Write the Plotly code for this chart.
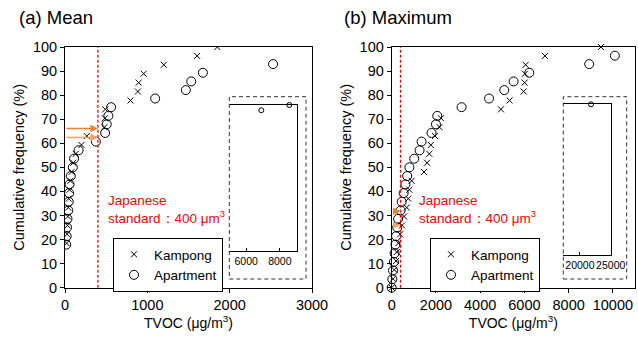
import plotly.graph_objects as go

# ---------------- data ----------------
# (a) Mean
mean_kampong_tvoc = [20, 25, 30, 35, 40, 45, 55, 65, 80, 100, 130, 200, 265,
                     480, 485, 490, 795, 885, 895, 955, 1200, 1605, 1850]
mean_kampong_freq = [18.5, 22.2, 25.9, 29.6, 33.3, 37.0, 40.7, 44.4, 48.1, 51.9,
                     55.6, 59.3, 63.0, 66.7, 70.4, 74.1, 77.8, 81.5, 85.2, 88.9,
                     92.6, 96.3, 100.0]
mean_apart_tvoc = [15, 20, 25, 30, 40, 45, 50, 55, 70, 95, 110, 165, 375, 487,
                   507, 527, 560, 1095, 1468, 1533, 1675, 2527]
mean_apart_freq = [17.9, 21.4, 25.0, 28.6, 32.1, 35.7, 39.3, 42.9, 46.4, 50.0,
                   53.6, 57.1, 60.7, 64.3, 67.9, 71.4, 75.0, 78.6, 82.1, 85.7,
                   89.3, 92.9]
mean_apart_inset_tvoc = [6900, 8560]
mean_apart_inset_freq = [96.4, 100.0]

# (b) Maximum
max_kampong_tvoc = [0, 60, 120, 200, 230, 300, 380, 470, 560, 680, 750, 800, 900,
                    1460, 1600, 1700, 1770, 1960, 2160, 2230, 4940, 5330, 5965,
                    6010, 6025, 6055, 6930, 9460]
max_kampong_freq = [0.0, 3.7, 7.4, 11.1, 14.8, 18.5, 22.2, 25.9, 29.6, 33.3, 37.0,
                    40.7, 44.4, 48.1, 51.9, 55.6, 59.3, 63.0, 66.7, 70.4, 74.1,
                    77.8, 81.5, 85.2, 88.9, 92.6, 96.3, 100.0]
max_apart_tvoc = [0, 30, 60, 100, 130, 170, 200, 250, 290, 405, 450, 540, 620,
                  700, 800, 1020, 1260, 1350, 1800, 2000, 2060, 3160, 4400, 5090,
                  5510, 6220, 8930, 10090]
max_apart_freq = [0.0, 3.57, 7.14, 10.7, 14.3, 17.9, 21.4, 25.0, 28.6, 32.1, 35.7,
                  39.3, 42.9, 46.4, 50.0, 53.6, 57.1, 60.7, 64.3, 67.9, 71.4, 75.0,
                  78.6, 82.1, 85.7, 89.3, 92.9, 96.4]
max_apart_inset_tvoc = [21800]
max_apart_inset_freq = [100.0]

standard = 400
mean_arrow_levels = [66.1, 62.4]
max_arrow_levels = [31.8, 26.0]
arrow_colors = ["#ED7D31", "#F0A06A"]

# ---------------- figure ----------------
W, H = 638, 338
FONT = "Liberation Sans, Arial, sans-serif"

def px_x(p):
    return p / W

def px_y(p):
    return 1 - p / H

fig = go.Figure()

kamp_marker = dict(symbol="x-thin", size=6, color="black", line=dict(color="black", width=1))
apt_marker = dict(symbol="circle-open", size=9, color="black", line=dict(color="black", width=1))
apt_small = dict(symbol="circle-open", size=5, color="black", line=dict(color="black", width=1))

fig.add_trace(go.Scatter(x=mean_kampong_tvoc, y=mean_kampong_freq, mode="markers",
                         marker=kamp_marker, name="Kampong", xaxis="x", yaxis="y",
                         legend="legend"))
fig.add_trace(go.Scatter(x=mean_apart_tvoc, y=mean_apart_freq, mode="markers",
                         marker=apt_marker, name="Apartment", xaxis="x", yaxis="y",
                         legend="legend"))
fig.add_trace(go.Scatter(x=max_kampong_tvoc, y=max_kampong_freq, mode="markers",
                         marker=kamp_marker, name="Kampong", xaxis="x2", yaxis="y2",
                         legend="legend2", cliponaxis=False))
fig.add_trace(go.Scatter(x=max_apart_tvoc, y=max_apart_freq, mode="markers",
                         marker=apt_marker, name="Apartment", xaxis="x2", yaxis="y2",
                         legend="legend2", cliponaxis=False))
fig.add_trace(go.Scatter(x=mean_apart_inset_tvoc, y=mean_apart_inset_freq, mode="markers",
                         marker=apt_small, showlegend=False, xaxis="x3", yaxis="y3",
                         cliponaxis=False))
fig.add_trace(go.Scatter(x=max_apart_inset_tvoc, y=max_apart_inset_freq, mode="markers",
                         marker=apt_small, showlegend=False, xaxis="x4", yaxis="y4",
                         cliponaxis=False))

tickfont = dict(family=FONT, size=14.5, color="black")
xtitlefont = dict(family=FONT, size=14, color="black")
ytitlefont = dict(family=FONT, size=14.5, color="black")

main_common = dict(showline=True, linecolor="black", linewidth=1, mirror=True,
                   ticks="outside", ticklen=4, tickcolor="black", showgrid=False,
                   zeroline=False, tickfont=tickfont, automargin=False,
                   tickformat="d")

ydom = [px_y(287.7), px_y(47)]
inset_tickfont = dict(family=FONT, size=10.5, color="black")
fig.update_layout(
    width=W, height=H,
    margin=dict(l=0, r=0, t=0, b=0, autoexpand=False),
    paper_bgcolor="white", plot_bgcolor="white",
    font=dict(family=FONT, color="black"),
    xaxis=dict(domain=[px_x(65), px_x(312)], range=[0, 3000], dtick=1000,
               title=dict(text="TVOC (μg/m<sup>3</sup>)", font=xtitlefont, standoff=2),
               anchor="y", **main_common),
    yaxis=dict(domain=ydom, range=[0, 100], dtick=10,
               title=dict(text="Cumulative frequency (%)", font=ytitlefont, standoff=4),
               anchor="x", **main_common),
    xaxis2=dict(domain=[px_x(391.7), px_x(635)], range=[0, 11000], dtick=2000,
                title=dict(text="TVOC (μg/m<sup>3</sup>)", font=xtitlefont, standoff=2),
                anchor="y2", **main_common),
    yaxis2=dict(domain=ydom, range=[0, 100], dtick=10,
                title=dict(text="Cumulative frequency (%)", font=ytitlefont, standoff=4),
                anchor="x2", **main_common),
    xaxis3=dict(domain=[px_x(229.3), px_x(296.7)], range=[5000, 9000],
                tickvals=[6000, 8000], ticks="inside", ticklen=3, tickcolor="black",
                showline=True, linecolor="black", linewidth=1, mirror=True,
                showgrid=False, zeroline=False, anchor="y3", automargin=False,
                tickformat="d", tickangle=0, tickfont=inset_tickfont),
    yaxis3=dict(domain=[px_y(251), px_y(105)], range=[0, 100], side="right",
                showline=True, linecolor="black", linewidth=1, showticklabels=False,
                ticks="", showgrid=False, zeroline=False, anchor="x3", automargin=False),
    xaxis4=dict(domain=[px_x(563.3), px_x(610.7)], range=[17300, 25000],
                tickvals=[20000, 25000], ticks="inside", ticklen=3, tickcolor="black",
                showline=True, linecolor="black", linewidth=1, mirror=True,
                showgrid=False, zeroline=False, anchor="y4", automargin=False,
                tickformat="d", tickangle=0, tickfont=inset_tickfont),
    yaxis4=dict(domain=[px_y(255), px_y(104.3)], range=[0, 100], side="right",
                showline=True, linecolor="black", linewidth=1, showticklabels=False,
                ticks="", showgrid=False, zeroline=False, anchor="x4", automargin=False),
    legend=dict(x=px_x(113), y=px_y(238), xanchor="left", yanchor="top",
                bordercolor="black", borderwidth=1, bgcolor="white",
                font=dict(family=FONT, size=13.5, color="black"),
                itemwidth=30, tracegroupgap=0),
    legend2=dict(x=px_x(430), y=px_y(238), xanchor="left", yanchor="top",
                 bordercolor="black", borderwidth=1, bgcolor="white",
                 font=dict(family=FONT, size=13.5, color="black"),
                 itemwidth=30, tracegroupgap=0),
)

# standard lines
for xr in ["x", "x2"]:
    fig.add_shape(type="line", xref=xr, yref="y domain" if xr == "x" else "y2 domain",
                  x0=standard, x1=standard, y0=0, y1=1,
                  line=dict(color="red", width=1.3, dash="3px,2px"))

# dashed inset boxes
for (l, r) in [(229.3, 306), (563.3, 626.7)]:
    fig.add_shape(type="rect", xref="paper", yref="paper",
                  x0=px_x(l), x1=px_x(r), y0=px_y(279), y1=px_y(96.7),
                  line=dict(color="#333333", width=1, dash="4px,3px"))

# arrows
for xr, yr, levels in [("x", "y", mean_arrow_levels), ("x2", "y2", max_arrow_levels)]:
    for lvl, col in zip(levels, arrow_colors):
        fig.add_annotation(x=standard, y=lvl, ax=0, ay=lvl, xref=xr, yref=yr,
                           axref=xr, ayref=yr, showarrow=True, arrowhead=2,
                           arrowsize=1, arrowwidth=1.5, arrowcolor=col, text="")

# standard labels
for xp in [106, 416.5]:
    fig.add_annotation(x=px_x(xp), y=px_y(209), xref="paper", yref="paper",
                       xanchor="left", yanchor="middle", showarrow=False, align="left",
                       text="Japanese<br>standard：400 μm<sup>3</sup>",
                       font=dict(family=FONT, size=13.5, color="red"))

# panel titles
fig.add_annotation(x=px_x(17), y=px_y(17), xref="paper", yref="paper",
                   xanchor="left", yanchor="middle", showarrow=False,
                   text="(a) Mean", font=dict(family=FONT, size=18.5, color="black"))
fig.add_annotation(x=px_x(342), y=px_y(17), xref="paper", yref="paper",
                   xanchor="left", yanchor="middle", showarrow=False,
                   text="(b) Maximum", font=dict(family=FONT, size=18.5, color="black"))

fig.write_html("out.html", config={"displayModeBar": False},
               post_script="document.body.style.margin='0px';")
